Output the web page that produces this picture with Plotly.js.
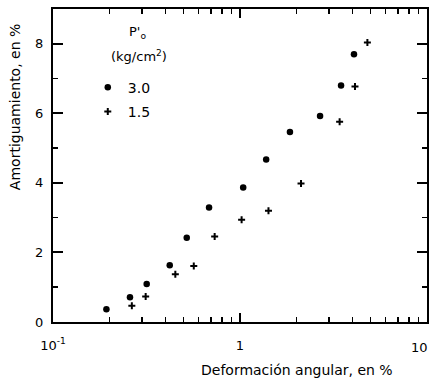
<!DOCTYPE html>
<html>
<head>
<meta charset="utf-8">
<script src="https://cdn.plot.ly/plotly-3.0.1.min.js"></script>
<style>html,body{margin:0;padding:0;background:#fff;}#chart{width:431px;height:378px;}</style>
</head>
<body>
<div id="chart"></div>
<script>
// Series: confining pressure p'o = 3.0 kg/cm2 (dots)
const strain30 = [0.193, 0.258, 0.317, 0.421, 0.519, 0.683, 1.04, 1.38, 1.85, 2.68, 3.47, 4.07];
const damping30 = [0.37, 0.71, 1.09, 1.63, 2.42, 3.29, 3.87, 4.67, 5.46, 5.92, 6.80, 7.70];
// Series: p'o = 1.5 kg/cm2 (crosses)
const strain15 = [0.264, 0.313, 0.451, 0.566, 0.732, 1.02, 1.42, 2.12, 3.41, 4.12, 4.80];
const damping15 = [0.47, 0.73, 1.37, 1.61, 2.46, 2.94, 3.20, 3.98, 5.76, 6.77, 8.04];
const seriesNames = ["3.0", "1.5"];
const xTickVals = [0.1, 1];
const xTickText = ["10<sup>-1</sup>", "1"];
const xEndLabel = "10";
const xMinorVals = [0.2,0.3,0.4,0.5,0.6,0.7,0.8,0.9,2,3,4,5,6,7,8,9];
const yTickVals = [0, 2, 4, 6, 8];
const yMinorVals = [1, 3, 5, 7];

const FF = "DejaVu Sans, sans-serif";

const traces = [
  {x: strain30, y: damping30, mode: "markers", type: "scatter", name: seriesNames[0],
   legendgroup: "a",
   marker: {symbol: "circle", size: 6.5, color: "#000"}},
  {x: strain15, y: damping15, mode: "markers", type: "scatter", name: seriesNames[1],
   legendgroup: "b",
   marker: {symbol: "cross-thin-open", size: 5, color: "#000", line: {width: 2, color: "#000"}}}
];

const layout = {
  width: 431, height: 378,
  margin: {l: 53, r: 4, t: 9, b: 56},
  paper_bgcolor: "#fff", plot_bgcolor: "#fff",
  font: {family: FF, size: 13, color: "#000"},
  showlegend: true,
  legend: {x: 0.093, y: 0.80, xanchor: "left", yanchor: "top", bgcolor: "rgba(0,0,0,0)",
           font: {family: FF, size: 14, color: "#000"},
           tracegroupgap: 3, itemsizing: "trace"},
  xaxis: {
    type: "log", range: [-1, 1],
    tickmode: "array", tickvals: xTickVals, ticktext: xTickText,
    ticks: "inside", ticklen: 9, tickwidth: 2, tickcolor: "#000",
    minor: {tickmode: "array", tickvals: xMinorVals, ticks: "inside", ticklen: 5, tickwidth: 1.5, tickcolor: "#000", showgrid: false},
    showline: true, linecolor: "#000", linewidth: 2, mirror: "allticks",
    showgrid: false, zeroline: false,
    ticklabelstandoff: 10,
    tickfont: {family: FF, size: 13, color: "#000"}
  },
  yaxis: {
    range: [0, 9],
    tickmode: "array", tickvals: yTickVals,
    ticks: "inside", ticklen: 10, tickwidth: 2, tickcolor: "#000",
    minor: {tickmode: "array", tickvals: yMinorVals, ticks: "inside", ticklen: 5, tickwidth: 1.5, tickcolor: "#000", showgrid: false},
    showline: true, linecolor: "#000", linewidth: 2, mirror: "allticks",
    showgrid: false, zeroline: false,
    ticklabelstandoff: 5,
    tickfont: {family: FF, size: 13, color: "#000"}
  },
  annotations: [
    {text: "Amortiguamiento, en %", xref: "paper", yref: "paper", x: -0.102, y: 0.686,
     textangle: -90, showarrow: false, xanchor: "center", yanchor: "middle",
     font: {family: FF, size: 14, color: "#000"}},
    {text: "Deformación angular, en %", xref: "paper", yref: "paper", x: 0.652, y: -0.154,
     showarrow: false, xanchor: "center", yanchor: "middle",
     font: {family: FF, size: 14, color: "#000"}},
    {text: "P'<sub>o</sub>", xref: "paper", yref: "paper", x: 0.227, y: 0.925,
     showarrow: false, xanchor: "center", yanchor: "middle",
     font: {family: FF, size: 13, color: "#000"}},
    {text: "(kg/cm<sup>2</sup>)", xref: "paper", yref: "paper", x: 0.23, y: 0.85,
     showarrow: false, xanchor: "center", yanchor: "middle",
     font: {family: FF, size: 13, color: "#000"}},
    {text: xEndLabel, xref: "paper", yref: "paper", x: 1.0, xshift: 3, y: -0.08,
     showarrow: false, xanchor: "right", yanchor: "middle",
     font: {family: FF, size: 13, color: "#000"}}
  ]
};

Plotly.newPlot("chart", traces, layout, {displayModeBar: false, staticPlot: true});
</script>
</body>
</html>
